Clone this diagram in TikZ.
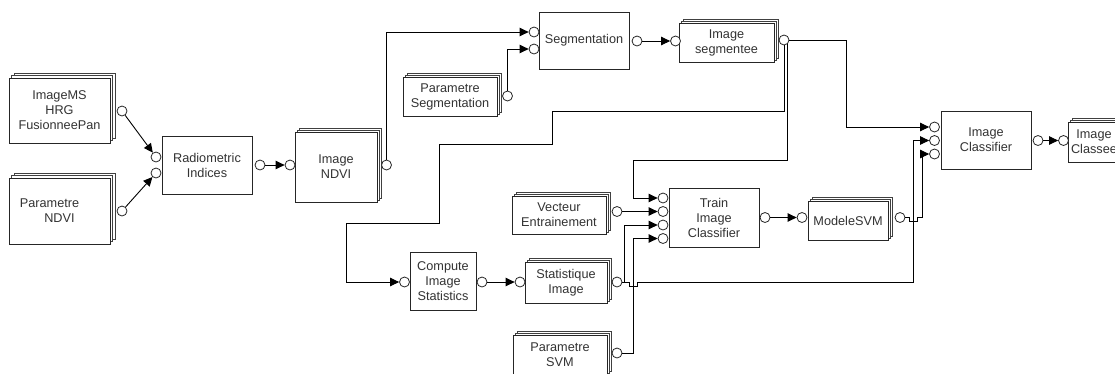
\documentclass[tikz,border=0pt]{standalone}
\usepackage{fontspec}
\setmainfont{Liberation Sans}
\usetikzlibrary{arrows.meta}
\tikzset{
  lbl/.style={font=\fontsize{12.7pt}{15pt}\selectfont, text=black!80, align=center, inner sep=0pt},
  proc/.style={lbl, draw=black!85, line width=0.9pt, fill=white},
  doc/.style={lbl, draw=black!85, line width=0.9pt, fill=white,
    preaction={draw=black!75, fill=white, line width=0.8pt, transform canvas={xshift=#1, yshift=#1}},
    preaction={draw=black!75, fill=white, line width=0.8pt, transform canvas={xshift=#1/2, yshift=#1/2}}},
  doc/.default=4pt,
  port/.style={circle, draw=black!85, fill=white, line width=0.8pt, minimum size=10pt, inner sep=0pt},
  link/.style={draw=black, line width=0.9pt},
  arr/.style={link, -{Triangle[length=9pt,width=8.5pt]}},
}
\begin{document}
\fontsize{12.7pt}{15pt}\selectfont
\begin{tikzpicture}[x=1pt,y=-1pt]
\useasboundingbox (0,0) rectangle (1115,373);
\clip (0,0) rectangle (1115,373);

% boxes
\node[doc=5pt, minimum width=101pt, minimum height=65pt] (ms) at (59.5,110.5) {ImageMS\\HRG\\FusionneePan};
\node[doc=5pt, minimum width=101pt, minimum height=66pt] (pndvi) at (59.5,211) {Parametre\hspace*{20pt}\\NDVI};
\node[proc, minimum width=90pt, minimum height=58pt] (ri) at (207,165) {Radiometric\\Indices};
\node[doc, minimum width=82pt, minimum height=70pt] (ndvi) at (336,167) {Image\\NDVI};
\node[proc, minimum width=90pt, minimum height=57pt] (seg) at (584,40.5) {Segmentation};
\node[doc, minimum width=94pt, minimum height=39pt] (pseg) at (450,96.5) {Parametre\\Segmentation};
\node[doc, minimum width=95pt, minimum height=39pt] (iseg) at (726.5,42.5) {Image\\segmentee};
\node[proc, minimum width=66pt, minimum height=58pt] (cis) at (443,281) {Compute\\Image\\Statistics};
\node[doc, minimum width=82pt, minimum height=41pt] (stat) at (566,282.5) {Statistique\\Image};
\node[doc, minimum width=94pt, minimum height=38pt] (vec) at (559,215) {Vecteur\\Entrainement};
\node[doc, minimum width=94pt, minimum height=40pt] (psvm) at (560,355) {Parametre\\SVM};
\node[proc, minimum width=90pt, minimum height=59pt] (tic) at (714,217.5) {Train\\Image\\Classifier};
\node[doc, minimum width=80pt, minimum height=39pt] (svm) at (848,220.5) {ModeleSVM};
\node[proc, minimum width=90pt, minimum height=58pt] (ic) at (986,140) {Image\\Classifier};
\node[doc, minimum width=52pt, minimum height=40pt] (icl) at (1094,142) {Image\\Classee};

% ports
\node[port] (msout) at (122,111) {};
\node[port] (pndviout) at (122,211) {};
\node[port] (ri1) at (156,157) {};
\node[port] (ri2) at (156,173) {};
\node[port] (riout) at (260,165) {};
\node[port] (ndviin) at (290,165) {};
\node[port] (ndviout) at (386.5,165) {};
\node[port] (seg1) at (534,32) {};
\node[port] (seg2) at (534,49) {};
\node[port] (psegout) at (507.5,96) {};
\node[port] (segout) at (637,41) {};
\node[port] (isin) at (675.5,41) {};
\node[port] (isout) at (784,40) {};
\node[port] (cisin) at (404.5,282) {};
\node[port] (cisout) at (482,282) {};
\node[port] (statin) at (520,282) {};
\node[port] (statout) at (617,282) {};
\node[port] (veout) at (617,211.5) {};
\node[port] (psvmout) at (617,353) {};
\node[port] (tic1) at (663,198) {};
\node[port] (tic2) at (663,211.5) {};
\node[port] (tic3) at (663,225) {};
\node[port] (tic4) at (663,238.5) {};
\node[port] (ticout) at (765,217.5) {};
\node[port] (svmin) at (802,217.5) {};
\node[port] (svmout) at (900,217.5) {};
\node[port] (ic1) at (934.5,127) {};
\node[port] (ic2) at (934.5,140.5) {};
\node[port] (ic3) at (934.5,154) {};
\node[port] (icout) at (1038,140.5) {};
\node[port] (iclin) at (1063.5,140.5) {};

% connectors
\draw[arr] (msout) -- (ri1);
\draw[arr] (pndviout) -- (ri2);
\draw[arr] (riout) -- (ndviin);
\draw[arr] (ndviout) |- (seg1);
\draw[arr] (psegout) |- (seg2);
\draw[arr] (segout) -- (isin);
\draw[arr] (isout) -- (846,40) |- (ic1);
\draw[arr] (isout.south) -- (784,111) -- (552,111) -- (552,144) -- (439,144) -- (439,223) -- (346,223) |- (cisin);
\draw[arr] (isout.-50) -- (isout.-50 |- 0,160) -- (633,160) |- (tic1);
\draw[arr] (cisout) -- (statin);
\draw[arr] (statout.east) -- (624,282) |- (tic3);
\draw[arr] (statout.east) -- (629,282) -- (629,286) -- (637,286) -- (637,282) -- (913,282) |- (ic2);
\draw[arr] (psvmout) -- (633,353) |- (tic4);
\draw[arr] (veout) -- (tic2);
\draw[arr] (ticout) -- (svmin);
\draw[arr] (svmout) -- (909,217.5) -- (909,221.5) -- (917,221.5) -- (917,217.5) -- (922,217.5) |- (ic3);
\draw[arr] (icout) -- (iclin);
\end{tikzpicture}
\end{document}
